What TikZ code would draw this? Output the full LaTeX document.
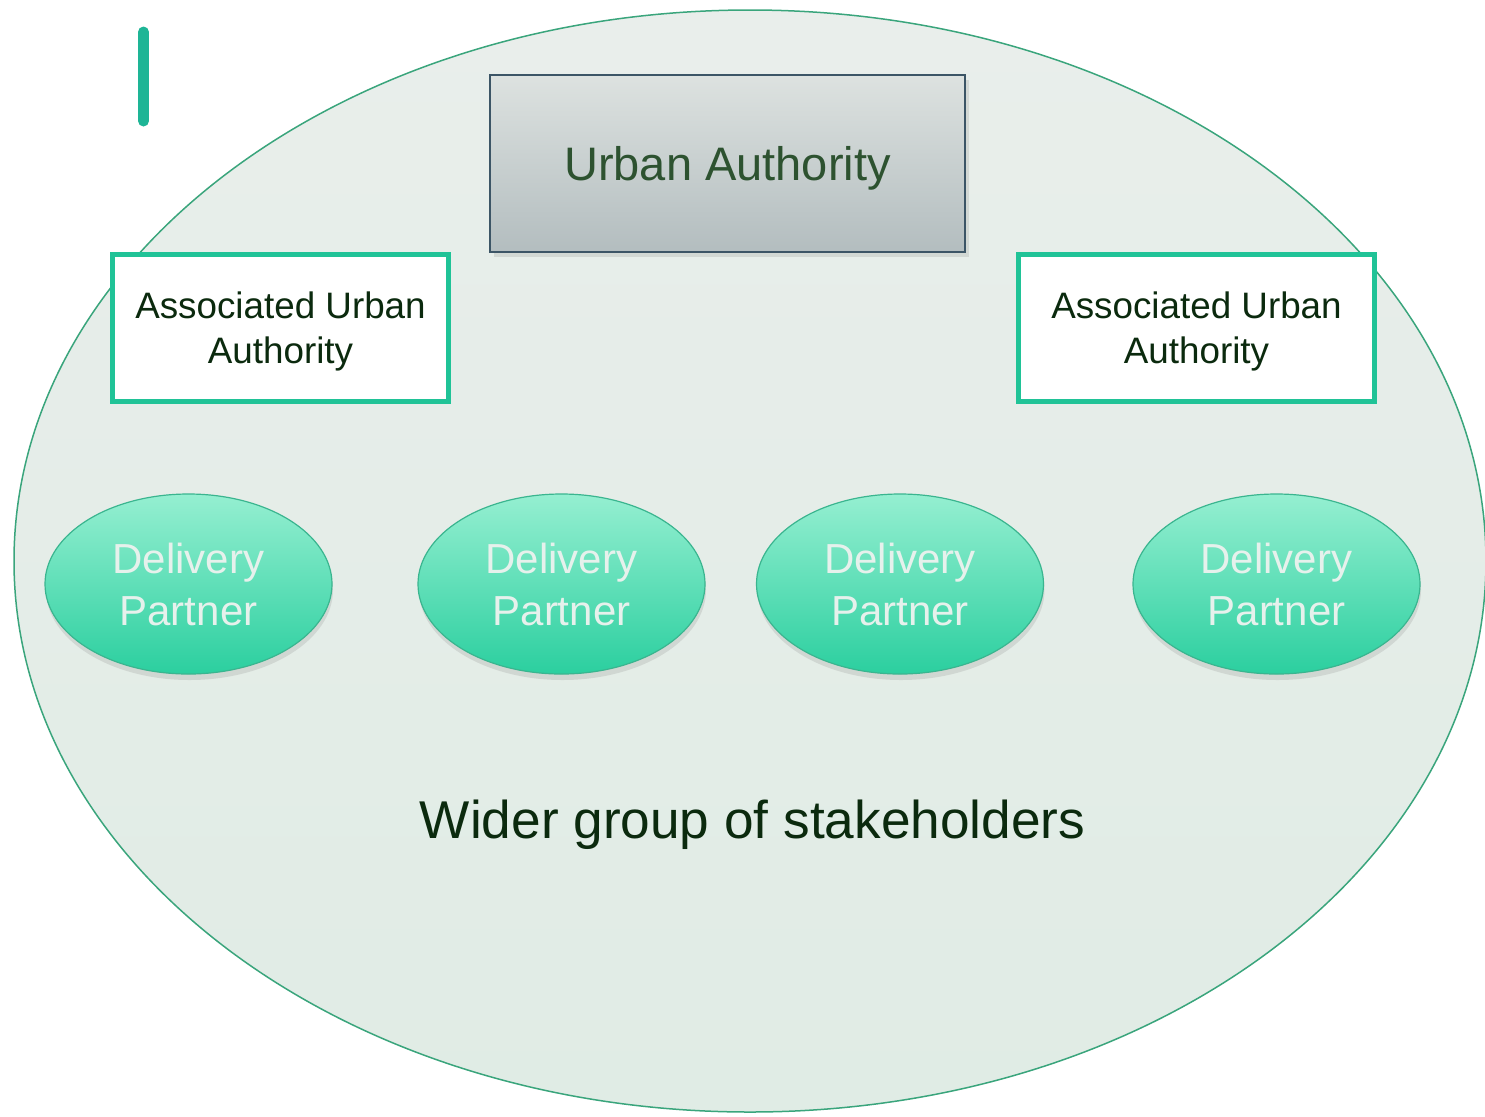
\documentclass[tikz,border=0pt]{standalone}
\usepackage{fontspec}
\setmainfont{Liberation Sans}
\usetikzlibrary{shapes.geometric,shadows}
\definecolor{groupline}{HTML}{3AA57C}
\definecolor{grouptop}{HTML}{E9EEEB}
\definecolor{groupbot}{HTML}{E0ECE5}
\definecolor{ualine}{HTML}{3C5566}
\definecolor{uatop}{HTML}{DDE2E0}
\definecolor{uabot}{HTML}{B3BDBF}
\definecolor{uatext}{HTML}{2D5230}
\definecolor{teal}{HTML}{1EB596}
\definecolor{assocline}{HTML}{20C397}
\definecolor{darktext}{HTML}{0B2A0E}
\definecolor{dptop}{HTML}{95EFD1}
\definecolor{dpbot}{HTML}{2BCF9F}
\definecolor{dpline}{HTML}{3AB58F}
\definecolor{dptext}{HTML}{E6F1EC}
\tikzset{
  authority/.style={draw=ualine,line width=0.8pt,top color=uatop,bottom color=uabot,
    minimum width=237.5pt,minimum height=88.5pt,inner sep=0pt,text=uatext,text depth=0pt,
    font=\fontsize{23.5}{28}\selectfont,
    drop shadow={shadow xshift=2pt,shadow yshift=-2.5pt,opacity=0.2}},
  assoc/.style={draw=assocline,line width=2.5pt,fill=white,minimum height=73.5pt,
    inner sep=0pt,align=center,text=darktext,text depth=0pt,font=\fontsize{18.4}{22.5}\selectfont},
  partner/.style={ellipse,draw=dpline,line width=0.6pt,top color=dptop,bottom color=dpbot,
    minimum width=143.5pt,minimum height=90pt,inner sep=0pt,align=center,text=dptext,
    font=\fontsize{21}{26}\selectfont,
    drop shadow={shadow xshift=0.5pt,shadow yshift=-3pt,opacity=0.2}},
}
\begin{document}
\begin{tikzpicture}[x=0.5pt,y=-0.5pt]
        \useasboundingbox (0,0) rectangle (1485,1116);
        % wider group
        \node[ellipse,draw=groupline,line width=0.75pt,top color=grouptop,bottom color=groupbot,
          minimum width=736pt,minimum height=551pt,inner sep=0pt] (group) at (750,561) {};
        \draw[teal,line width=5.5pt,line cap=round] (143.5,32) -- (143.5,121);
        \node[authority] (ua) at (727.5,163.5) {Urban Authority};
        \node[assoc,minimum width=168pt] (aualeft) at (280.5,328) {Associated Urban\\Authority};
        \node[assoc,minimum width=178pt] (auaright) at (1196.5,328) {Associated Urban\\Authority};
        % delivery partners
        \node[partner] (dpa) at (188.5,584) {Delivery\\Partner};
        \node[partner] (dpb) at (561.5,584) {Delivery\\Partner};
        \node[partner] (dpc) at (900,584) {Delivery\\Partner};
        \node[partner] (dpd) at (1276.5,584) {Delivery\\Partner};
        \node[anchor=base,text=darktext,font=\fontsize{26.6}{32}\selectfont] (wider) at (752.5,838) {Wider group of stakeholders};
\end{tikzpicture}
\end{document}
